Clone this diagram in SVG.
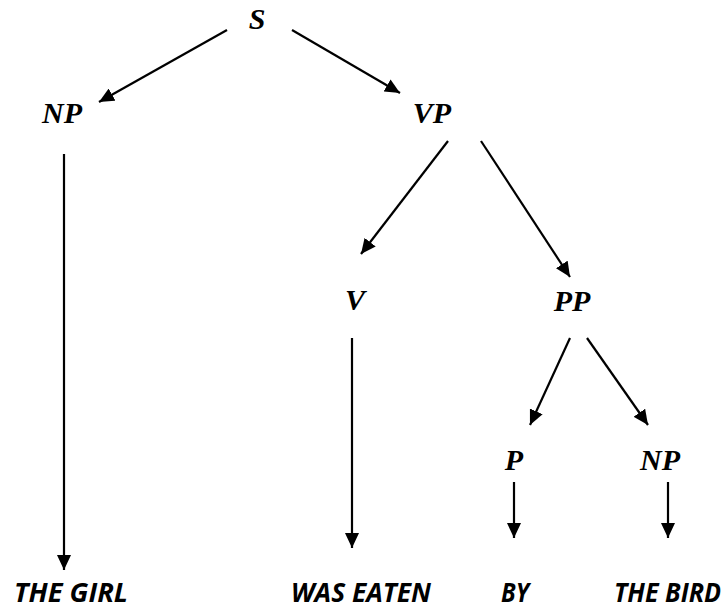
<svg xmlns="http://www.w3.org/2000/svg" width="728" height="610" viewBox="0 0 728 610">
<style>
.cat{font-family:"Liberation Serif","Times New Roman",serif;font-weight:bold;font-style:italic;font-size:30px;fill:#000;text-anchor:middle}
.leaf{font-family:"Open Sans","Liberation Sans",sans-serif;font-weight:bold;font-style:italic;font-size:27px;fill:#000}
.edge{stroke:#000;stroke-width:2.2;fill:none;marker-end:url(#ah)}
</style>
<defs>
<marker id="ah" viewBox="0 0 15 14" refX="15" refY="7" markerWidth="15" markerHeight="14" markerUnits="userSpaceOnUse" orient="auto">
<path d="M0,0 L15,7 L0,14 Z" fill="#000"/>
</marker>
</defs>
<rect width="728" height="610" fill="#fff"/>
<g id="connectors">
<line class="edge" x1="227" y1="30" x2="99" y2="102"/>
<line class="edge" x1="292" y1="30" x2="400" y2="93"/>
<line class="edge" x1="64" y1="154" x2="64" y2="570"/>
<line class="edge" x1="448" y1="141" x2="361" y2="254"/>
<line class="edge" x1="481" y1="141" x2="570" y2="277"/>
<line class="edge" x1="352" y1="338" x2="352" y2="548"/>
<line class="edge" x1="570" y1="338" x2="530" y2="425"/>
<line class="edge" x1="587" y1="338" x2="648" y2="425"/>
<line class="edge" x1="514" y1="482" x2="514" y2="538"/>
<line class="edge" x1="668" y1="482" x2="668" y2="538"/>
</g>
<g id="node-S"><text class="cat" x="257" y="29">S</text></g>
<g id="node-NP"><text class="cat" x="62" y="123">NP</text></g>
<g id="node-VP"><text class="cat" x="432" y="123">VP</text></g>
<g id="node-V"><text class="cat" x="355" y="310">V</text></g>
<g id="node-PP"><text class="cat" x="572" y="311">PP</text></g>
<g id="node-P"><text class="cat" x="514" y="470">P</text></g>
<g id="node-NP2"><text class="cat" x="660" y="470">NP</text></g>
<g id="leaf-girl"><text class="leaf" x="14" y="602" textLength="114" lengthAdjust="spacingAndGlyphs">THE GIRL</text></g>
<g id="leaf-eaten"><text class="leaf" x="291" y="602" textLength="140" lengthAdjust="spacingAndGlyphs">WAS EATEN</text></g>
<g id="leaf-by"><text class="leaf" x="501" y="602" textLength="28" lengthAdjust="spacingAndGlyphs">BY</text></g>
<g id="leaf-bird"><text class="leaf" x="614" y="602" textLength="107" lengthAdjust="spacingAndGlyphs">THE BIRD</text></g>
</svg>
